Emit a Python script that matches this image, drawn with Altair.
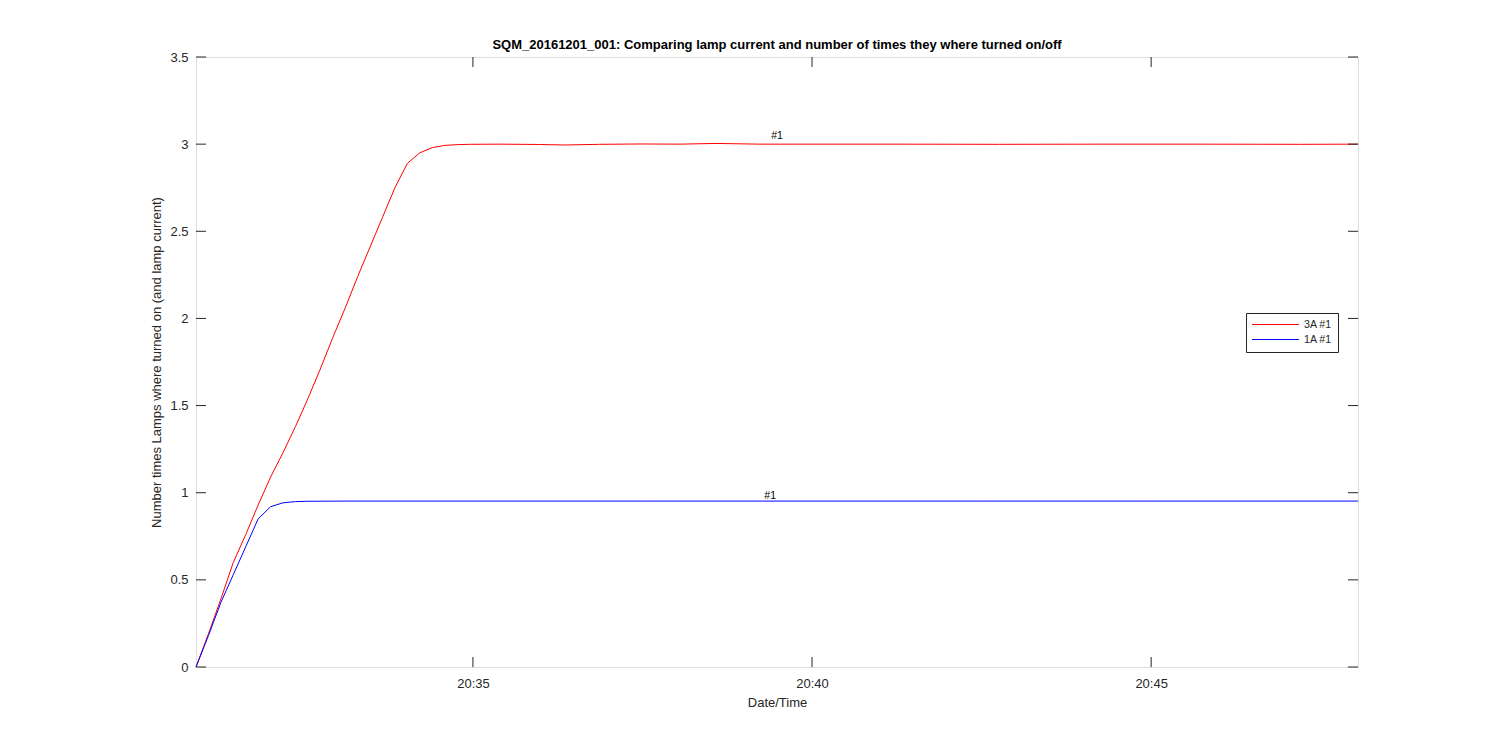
import altair as alt
import pandas as pd

# ---- data (seconds after 20:30:00) ----
series_names = ["3A #1", "1A #1"]
series_colors = ["#FF0000", "#0000FF"]

red_t = [55, 66, 77, 88, 99, 110, 121, 132, 143, 154, 165, 176, 187, 198, 209, 220,
         231, 242, 253, 264, 275, 286, 297, 324, 359, 381, 412, 448, 483, 515, 554,
         589, 678, 766, 855, 943, 1032, 1083]
red_v = [0, 0.19, 0.39, 0.60, 0.76, 0.93, 1.09, 1.23, 1.38, 1.54, 1.71, 1.89, 2.06,
         2.24, 2.41, 2.58, 2.75, 2.89, 2.95, 2.98, 2.993, 2.997, 2.999, 3.0, 2.998,
         2.995, 2.999, 3.001, 3.0, 3.004, 3.0, 3.0, 3.0, 2.999, 3.0, 3.0, 2.999, 3.0]

blue_t = [55, 66, 77, 88, 99, 110, 121, 132, 143, 154, 187, 300, 450, 600, 750, 900, 1083]
blue_v = [0, 0.18, 0.37, 0.53, 0.69, 0.85, 0.92, 0.942, 0.949, 0.951, 0.952, 0.952,
          0.952, 0.952, 0.952, 0.952, 0.952]

label_text = ["#1", "#1"]
label_t = [569, 563]
label_v = [3.028, 0.962]

x_domain = [55, 1083]
y_domain = [0, 3.5]
x_ticks = [300, 600, 900]
y_ticks = [0, 0.5, 1, 1.5, 2, 2.5, 3, 3.5]

title_text = "SQM_20161201_001: Comparing lamp current and number of times they where turned on/off"
x_title = "Date/Time"
y_title = "Number times Lamps where turned on (and lamp current)"

W, H = 1162, 610
AX = "#262626"
FONT = "Liberation Sans"

# ---- tables ----
lines_df = pd.DataFrame(
    [{"series": series_names[0], "t": t, "v": v} for t, v in zip(red_t, red_v)]
    + [{"series": series_names[1], "t": t, "v": v} for t, v in zip(blue_t, blue_v)]
)
labels_df = pd.DataFrame({"t": label_t, "v": label_v, "txt": label_text})
xt_df = pd.DataFrame({"t": x_ticks})
yt_df = pd.DataFrame({"v": y_ticks})

xs = alt.Scale(domain=x_domain, nice=False, zero=False)
ys = alt.Scale(domain=y_domain, nice=False, zero=False)

x_axis = alt.Axis(values=x_ticks, labelExpr="'20:' + (30 + datum.value / 60)",
                  domain=False, ticks=False, grid=False, labelPadding=10,
                  titlePadding=6, labelFontSize=13, titleFontSize=13,
                  titleFontWeight="normal", labelColor=AX, titleColor=AX,
                  labelFont=FONT, titleFont=FONT)
y_axis = alt.Axis(values=y_ticks, format="~g", domain=False, ticks=False,
                  grid=False, labelPadding=8, titlePadding=6, labelFontSize=13,
                  titleFontSize=13, titleFontWeight="normal", labelColor=AX,
                  titleColor=AX, labelFont=FONT, titleFont=FONT)


def X():
    return alt.X("t:Q", scale=xs, title=x_title, axis=x_axis)


def Y():
    return alt.Y("v:Q", scale=ys, title=y_title, axis=y_axis)


lines = alt.Chart(lines_df).mark_line(strokeWidth=1, interpolate="linear").encode(
    x=X(), y=Y(),
    color=alt.Color("series:N",
                    scale=alt.Scale(domain=series_names, range=series_colors),
                    legend=alt.Legend(orient="none", legendX=1050, legendY=256, title=None,
                                      strokeColor=AX, fillColor="white", padding=6,
                                      symbolType="M-5,0H5", symbolSize=88,
                                      symbolStrokeWidth=1, symbolOffset=18,
                                      labelOffset=23,
                                      labelFontSize=10.6, labelFont=FONT, labelColor=AX,
                                      rowPadding=3)),
    detail="series:N",
)

texts = alt.Chart(labels_df).mark_text(fontSize=10.5, font=FONT, color="black",
                                       baseline="alphabetic", align="center").encode(
    x=X(), y=Y(), text="txt:N",
)

tick_style = dict(color=AX, strokeWidth=1)
yt_left = alt.Chart(yt_df).mark_rule(**tick_style).encode(
    y=Y(), x=alt.value(0), x2=alt.value(10))
yt_right = alt.Chart(yt_df).mark_rule(**tick_style).encode(
    y=Y(), x=alt.value(W - 10), x2=alt.value(W))
xt_bottom = alt.Chart(xt_df).mark_rule(**tick_style).encode(
    x=X(), y=alt.value(H - 10), y2=alt.value(H))
xt_top = alt.Chart(xt_df).mark_rule(**tick_style).encode(
    x=X(), y=alt.value(0), y2=alt.value(10))

chart = alt.layer(lines, texts, yt_left, yt_right, xt_bottom, xt_top).properties(
    width=W, height=H,
    title=alt.TitleParams(title_text, font=FONT, fontSize=13, fontWeight="bold",
                          color="black", anchor="middle", offset=-1),
    autosize=alt.AutoSizeParams(type="none"),
    padding={"left": 188, "top": 49, "right": 134, "bottom": 75},
).configure_view(stroke=AX, strokeWidth=1).configure(background="white")

chart.save("out.html", embed_options={"renderer": "svg", "actions": False})
